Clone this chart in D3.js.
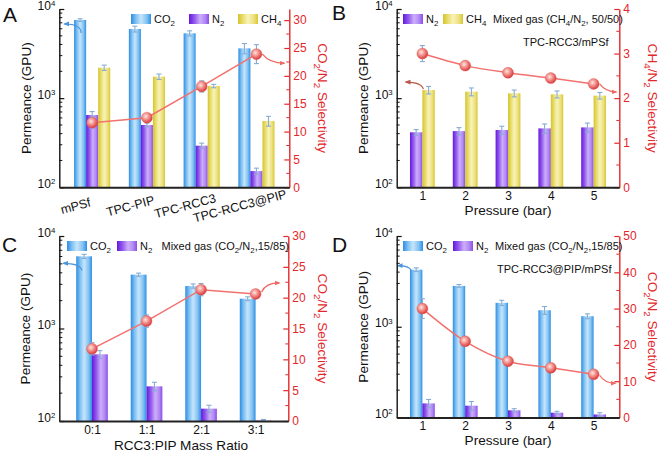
<!DOCTYPE html>
<html><head><meta charset="utf-8">
<script src="https://cdn.jsdelivr.net/npm/d3@7"></script>
<style>body{margin:0;background:#fff} svg{display:block;font-family:"Liberation Sans",Arial,sans-serif}</style>
</head><body>
<svg id="chart" width="661" height="454"></svg>
<script>
// ---------- DATA ----------
const catsA = ["mPSf", "TPC-PIP", "TPC-RCC3", "TPC-RCC3@PIP"];
const co2A = [7530, 5970, 5340, 3620];
const co2ErrA = [250, 450, 350, 480];
const n2A = [647, 500, 293, 152];
const n2ErrA = [60, 25, 20, 12];
const ch4A = [2196, 1742, 1368, 555];
const ch4ErrA = [150, 120, 60, 70];
const selA = [11.6, 12.5, 18.1, 23.9];
const selErrA = [1.0, 0.5, 1.0, 1.7];

const pressB = ["1", "2", "3", "4", "5"];
const n2B = [414, 427, 439, 458, 470];
const n2ErrB = [30, 40, 45, 55, 55];
const ch4B = [1233, 1181, 1133, 1104, 1067];
const ch4ErrB = [120, 120, 100, 100, 90];
const selB = [3.0, 2.73, 2.57, 2.45, 2.32];
const selErrB = [0.18, 0.06, 0.04, 0.06, 0.06];

const ratiosC = ["0:1", "1:1", "2:1", "3:1"];
const co2C = [6030, 3820, 2880, 2100];
const co2ErrC = [300, 150, 150, 100];
const n2C = [526, 237, 136, 101];
const n2ErrC = [50, 25, 12, 3];
const selC = [11.7, 16.2, 21.3, 20.6];
const selErrC = [1.0, 1.0, 1.0, 0.3];

const pressD = ["1", "2", "3", "4", "5"];
const co2D = [4256, 2818, 1834, 1520, 1306];
const co2ErrD = [200, 100, 120, 150, 80];
const n2D = [143, 135, 120, 113, 108];
const n2ErrD = [15, 15, 5, 4, 5];
const selD = [30.0, 21.0, 15.5, 13.7, 11.9];
const selErrD = [2.7, 0.8, 0.8, 0.8, 0.5];

const leftTicks = [100, 1000, 10000];
const rightTicksA = [0, 5, 10, 15, 20, 25, 30];
const rightTicksB = [0, 1, 2, 3, 4];
const rightTicksC = [0, 5, 10, 15, 20, 25, 30];
const rightTicksD = [0, 10, 20, 30, 40, 50];

// ---------- STYLE ----------
const RED = "#e3282c";
const ERR = "#86acd4";
const LINE = "#f2716e";
const svg = d3.select("#chart");
const defs = svg.append("defs");

function hGrad(id, stops) {
  const g = defs.append("linearGradient").attr("id", id)
    .attr("x1", "0").attr("x2", "1").attr("y1", "0").attr("y2", "0");
  stops.forEach(([o, c]) => g.append("stop").attr("offset", o).attr("stop-color", c));
}
hGrad("gCO2", [[0, "#2e8de2"], [0.25, "#7fc1f3"], [0.5, "#c6e5fb"], [0.78, "#84c3f3"], [1, "#2f90e3"]]);
hGrad("gN2", [[0, "#6418df"], [0.28, "#935bec"], [0.55, "#ccaefa"], [0.8, "#b28af4"], [1, "#8a4de8"]]);
hGrad("gCH4", [[0, "#d5c42a"], [0.28, "#ebe077"], [0.5, "#f8f3b8"], [0.78, "#ede182"], [1, "#d8c832"]]);
const rg = defs.append("radialGradient").attr("id", "gBall").attr("cx", "40%").attr("cy", "38%").attr("r", "62%");
[[0, "#fde6e2"], [0.45, "#f39590"], [1, "#d9393b"]].forEach(([o, c]) => rg.append("stop").attr("offset", o).attr("stop-color", c));

function arrowMarker(id, color) {
  defs.append("marker").attr("id", id).attr("viewBox", "0 0 10 10").attr("refX", 8).attr("refY", 5)
    .attr("markerWidth", 5).attr("markerHeight", 5).attr("orient", "auto")
    .append("path").attr("d", "M0,1 L10,5 L0,9 Z").attr("fill", color);
}
arrowMarker("arrBlue", "#4c94dc");
arrowMarker("arrRed", "#f06862");
arrowMarker("arrBrown", "#b9574a");

function rich(t, str, fs) {
  const parts = str.split(/(_\{[^}]*\}|\^\{[^}]*\})/).filter(s => s.length);
  let cur = 0;
  parts.forEach(p => {
    let target = 0, txt = p, size = null;
    if (p.startsWith("_{")) { target = fs * 0.3; txt = p.slice(2, -1); size = fs * 0.72; }
    else if (p.startsWith("^{")) { target = -fs * 0.3; txt = p.slice(2, -1); size = fs * 0.65; }
    const ts = t.append("tspan").text(txt).attr("dy", target - cur);
    if (size) ts.attr("font-size", size);
    cur = target;
  });
}

function drawPanel(p) {
  const g = svg.append("g");
  const xs = d3.scaleLinear().domain(p.xDomain).range([p.left, p.right]);
  const yL = d3.scaleLog().domain([100, 10000]).range([p.bottom, p.top]);
  const yR = d3.scaleLinear().domain(p.rDomain).range([p.bottom, p.top]);

  // bars
  p.bars.forEach(s => {
    g.append("g").selectAll("rect").data(s.values).join("rect")
      .attr("x", (d, i) => xs(i + 1 + s.off))
      .attr("width", (d, i) => xs(i + 1 + s.off + s.w) - xs(i + 1 + s.off))
      .attr("y", d => yL(d))
      .attr("height", d => p.bottom - yL(d))
      .attr("fill", `url(#${s.grad})`);
  });
  // bar error bars
  p.bars.forEach(s => {
    const eg = g.append("g").attr("stroke", ERR).attr("stroke-width", 1.1);
    s.values.forEach((v, i) => {
      const cx = xs(i + 1 + s.off + s.w / 2);
      const hi = yL(v + s.errs[i]);
      const ylo = Math.min(yL(Math.max(v - s.errs[i], 100.5)), p.bottom);
      eg.append("line").attr("x1", cx).attr("x2", cx).attr("y1", ylo).attr("y2", hi);
      eg.append("line").attr("x1", cx - 2.5).attr("x2", cx + 2.5).attr("y1", hi).attr("y2", hi);
      eg.append("line").attr("x1", cx - 2.5).attr("x2", cx + 2.5).attr("y1", ylo).attr("y2", ylo);
    });
  });

  // selectivity line
  const line = d3.line().x((d, i) => xs(i + 1)).y(d => yR(d)).curve(p.curve);
  g.append("path").datum(p.sel).attr("d", line).attr("fill", "none")
    .attr("stroke", LINE).attr("stroke-width", 1.5);
  const sg = g.append("g").attr("stroke", ERR).attr("stroke-width", 1.1);
  p.sel.forEach((v, i) => {
    const cx = xs(i + 1), a = yR(v - p.selErr[i]), b = yR(v + p.selErr[i]);
    sg.append("line").attr("x1", cx).attr("x2", cx).attr("y1", a).attr("y2", b);
    sg.append("line").attr("x1", cx - 2.5).attr("x2", cx + 2.5).attr("y1", a).attr("y2", a);
    sg.append("line").attr("x1", cx - 2.5).attr("x2", cx + 2.5).attr("y1", b).attr("y2", b);
  });
  g.append("g").selectAll("circle").data(p.sel).join("circle")
    .attr("cx", (d, i) => xs(i + 1)).attr("cy", d => yR(d)).attr("r", 5.5)
    .attr("fill", "url(#gBall)").attr("stroke", "#e05a58").attr("stroke-width", 0.4);

  // arrows
  p.arrows(xs, yL, yR).forEach(a => {
    g.append("path")
      .attr("d", `M${a.s[0]},${a.s[1]} Q${a.c[0]},${a.c[1]} ${a.e[0]},${a.e[1]}`)
      .attr("fill", "none").attr("stroke", a.color).attr("stroke-width", 1.2)
      .attr("marker-end", `url(#${a.m})`);
  });

  // left axis
  const la = g.append("g").attr("transform", `translate(${p.left},0)`)
    .call(d3.axisLeft(yL).tickValues(leftTicks).tickSize(-5).tickSizeOuter(0).tickPadding(4).tickFormat(() => ""))
    .attr("font-family", null).attr("font-size", null);
  la.select(".domain").attr("stroke", "#111").attr("stroke-width", 1.4);
  la.selectAll(".tick line").attr("stroke", "#111").attr("stroke-width", 1.2);
  la.selectAll(".tick text").attr("font-size", 12).attr("fill", "#111")
    .each(function (d) { rich(d3.select(this), "10^{" + Math.round(Math.log10(d)) + "}", 12); });
  const minors = [];
  [100, 1000].forEach(dec => { for (let k = 2; k <= 9; k++) minors.push(dec * k); });
  g.append("g").selectAll("line").data(minors).join("line")
    .attr("x1", p.left).attr("x2", p.left + 3).attr("y1", d => yL(d)).attr("y2", d => yL(d))
    .attr("stroke", "#111").attr("stroke-width", 1);

  // right axis
  const ra = g.append("g").attr("transform", `translate(${p.right},0)`)
    .call(d3.axisRight(yR).tickValues(p.rTicks).tickSize(-5).tickSizeOuter(0).tickPadding(4).tickFormat(d3.format("d")))
    .attr("font-family", null).attr("font-size", null);
  ra.select(".domain").attr("stroke", RED).attr("stroke-width", 1.4);
  ra.selectAll(".tick line").attr("stroke", RED).attr("stroke-width", 1.2);
  ra.selectAll(".tick text").attr("font-size", 12).attr("fill", RED);
  const step = p.rTicks[1] - p.rTicks[0];
  const rMinor = p.rTicks.slice(0, -1).map(t => t + step / 2);
  g.append("g").selectAll("line").data(rMinor).join("line")
    .attr("x1", p.right - 3).attr("x2", p.right).attr("y1", d => yR(d)).attr("y2", d => yR(d))
    .attr("stroke", RED).attr("stroke-width", 1);

  // bottom axis
  const ba = g.append("g").attr("transform", `translate(0,${p.bottom})`)
    .call(d3.axisBottom(xs).tickValues(p.cats.map((c, i) => i + 1)).tickSize(0).tickSizeOuter(0).tickPadding(4)
      .tickFormat(d => p.cats[d - 1]))
    .attr("font-family", null).attr("font-size", null);
  ba.select(".domain").attr("stroke", "#222").attr("stroke-width", 2);
  ba.selectAll(".tick text").attr("font-size", 12).attr("fill", "#111");
  if (p.rotateLabels) {
    ba.selectAll(".tick text").attr("font-size", 12.5).attr("y", 0).attr("dy", null)
      .attr("text-anchor", "middle").attr("dominant-baseline", "central")
      .attr("transform", "translate(-17,19) rotate(-15)");
  }

  // titles
  const lt = g.append("text").attr("transform", `translate(${p.ltx},${(p.top + p.bottom) / 2}) rotate(-90)`)
    .attr("text-anchor", "middle").attr("dy", "0.35em").attr("font-size", 13.6).attr("fill", "#111");
  rich(lt, "Permeance (GPU)", 13.6);
  const rt = g.append("text").attr("transform", `translate(${p.rtx},${(p.top + p.bottom) / 2}) rotate(90)`)
    .attr("text-anchor", "middle").attr("dy", "0.35em").attr("font-size", 13.6).attr("fill", RED);
  rich(rt, p.rTitle, 13.6);
  if (p.xTitle) {
    g.append("text").attr("x", p.xtx).attr("y", p.xty).attr("text-anchor", "middle")
      .attr("font-size", 13.6).attr("fill", "#111").text(p.xTitle);
  }
  // letter
  g.append("text").attr("x", p.letterX).attr("y", p.letterY).attr("font-size", 21).attr("fill", "#111").text(p.letter);

  // legend
  p.legend.forEach(l => {
    if (l.grad) {
      g.append("rect").attr("x", l.x).attr("y", l.y - 9).attr("width", 20).attr("height", 10).attr("fill", `url(#${l.grad})`);
      const t = g.append("text").attr("x", l.x + 23).attr("y", l.y).attr("font-size", 11).attr("fill", "#111");
      rich(t, l.label, 11);
    } else {
      const t = g.append("text").attr("x", l.x).attr("y", l.y).attr("font-size", 11).attr("fill", "#111");
      rich(t, l.label, 11);
    }
  });
}

// Panel A
drawPanel({
  letter: "A", letterX: 3, letterY: 22,
  left: 59.3, right: 289.3, top: 9, bottom: 187.3,
  xDomain: [0.4, 4.6], cats: catsA, rotateLabels: true,
  bars: [
    { values: co2A, errs: co2ErrA, grad: "gCO2", off: -0.33, w: 0.22 },
    { values: n2A, errs: n2ErrA, grad: "gN2", off: -0.11, w: 0.22 },
    { values: ch4A, errs: ch4ErrA, grad: "gCH4", off: 0.11, w: 0.22 }
  ],
  sel: selA, selErr: selErrA, curve: d3.curveLinear,
  rDomain: [0, 32], rTicks: rightTicksA,
  rTitle: "CO_{2}/N_{2} Selectivity", ltx: 31, rtx: 318,
  arrows: (xs, yL, yR) => [
    { s: [xs(0.8), yL(co2A[0]) + 13], c: [xs(0.8), yL(co2A[0]) + 4], e: [59.3 + 5, yL(co2A[0]) + 4], color: "#4c94dc", m: "arrBlue" },
    { s: [xs(4) + 6, yR(selA[3])], c: [xs(4) + 13, yR(selA[3]) + 9], e: [289.3 - 5, yR(selA[3]) + 9], color: "#f06862", m: "arrRed" }
  ],
  legend: [
    { grad: "gCO2", label: "CO_{2}", x: 131, y: 23 },
    { grad: "gN2", label: "N_{2}", x: 189, y: 23 },
    { grad: "gCH4", label: "CH_{4}", x: 238, y: 23 }
  ]
});

// Panel B
drawPanel({
  letter: "B", letterX: 332, letterY: 20,
  left: 396.7, right: 619.3, top: 9, bottom: 187.3,
  xDomain: [0.4, 5.6], cats: pressB,
  bars: [
    { values: n2B, errs: n2ErrB, grad: "gN2", off: -0.29, w: 0.29 },
    { values: ch4B, errs: ch4ErrB, grad: "gCH4", off: 0, w: 0.29 }
  ],
  sel: selB, selErr: selErrB, curve: d3.curveMonotoneX,
  rDomain: [0, 4], rTicks: rightTicksB,
  rTitle: "CH_{4}/N_{2} Selectivity", ltx: 367.5, rtx: 648,
  xTitle: "Pressure (bar)", xtx: 508, xty: 215,
  arrows: (xs, yL, yR) => [
    { s: [xs(1) + 1, yL(ch4B[0]) - 1], c: [xs(1) - 1, yL(ch4B[0]) - 8], e: [396.7 + 9, yL(ch4B[0]) - 8], color: "#b9574a", m: "arrBrown" },
    { s: [xs(5) + 6, yR(selB[4])], c: [xs(5) + 12, yR(selB[4]) + 8], e: [619.3 - 3, yR(selB[4]) + 8], color: "#f06862", m: "arrRed" }
  ],
  legend: [
    { grad: "gN2", label: "N_{2}", x: 403, y: 23 },
    { grad: "gCH4", label: "CH_{4}", x: 443, y: 23 },
    { label: "Mixed gas (CH_{4}/N_{2}, 50/50)", x: 493, y: 23 },
    { label: "TPC-RCC3/mPSf", x: 523, y: 46 }
  ]
});

// Panel C
drawPanel({
  letter: "C", letterX: 2, letterY: 252,
  left: 59.3, right: 288.3, top: 236, bottom: 421,
  xDomain: [0.4, 4.6], cats: ratiosC,
  bars: [
    { values: co2C, errs: co2ErrC, grad: "gCO2", off: -0.29, w: 0.29 },
    { values: n2C, errs: n2ErrC, grad: "gN2", off: 0, w: 0.29 }
  ],
  sel: selC, selErr: selErrC, curve: d3.curveLinear,
  rDomain: [0, 30], rTicks: rightTicksC,
  rTitle: "CO_{2}/N_{2} Selectivity", ltx: 30, rtx: 318,
  xTitle: "RCC3:PIP Mass Ratio", xtx: 181, xty: 450,
  arrows: (xs, yL, yR) => [
    { s: [xs(1) - 10, yL(co2C[0]) + 14], c: [xs(1) - 12, yL(co2C[0]) + 7], e: [59.3 + 4, yL(co2C[0]) + 7], color: "#4c94dc", m: "arrBlue" },
    { s: [xs(4) + 6, yR(selC[3]) - 2], c: [xs(4) + 10, yR(selC[3]) - 11], e: [288.3 - 9, yR(selC[3]) - 11], color: "#f06862", m: "arrRed" }
  ],
  legend: [
    { grad: "gCO2", label: "CO_{2}", x: 67, y: 250 },
    { grad: "gN2", label: "N_{2}", x: 117, y: 250 },
    { label: "Mixed gas (CO_{2}/N_{2},15/85)", x: 161.5, y: 250 }
  ]
});

// Panel D
drawPanel({
  letter: "D", letterX: 332, letterY: 252,
  left: 396.7, right: 619.3, top: 236, bottom: 417.5,
  xDomain: [0.4, 5.6], cats: pressD,
  bars: [
    { values: co2D, errs: co2ErrD, grad: "gCO2", off: -0.29, w: 0.29 },
    { values: n2D, errs: n2ErrD, grad: "gN2", off: 0, w: 0.29 }
  ],
  sel: selD, selErr: selErrD, curve: d3.curveMonotoneX,
  rDomain: [0, 50], rTicks: rightTicksD,
  rTitle: "CO_{2}/N_{2} Selectivity", ltx: 367.5, rtx: 648,
  xTitle: "Pressure (bar)", xtx: 508, xty: 445,
  arrows: (xs, yL, yR) => [
    { s: [xs(1) - 11, yL(co2D[0]) + 1], c: [xs(1) - 13, yL(co2D[0]) - 4], e: [396.7 + 1, yL(co2D[0]) - 4], color: "#4c94dc", m: "arrBlue" },
    { s: [xs(5) + 6, yR(selD[4]) + 1], c: [xs(5) + 11, yR(selD[4]) + 9], e: [619.3 - 4, yR(selD[4]) + 9], color: "#f06862", m: "arrRed" }
  ],
  legend: [
    { grad: "gCO2", label: "CO_{2}", x: 403, y: 250 },
    { grad: "gN2", label: "N_{2}", x: 453, y: 250 },
    { label: "Mixed gas (CO_{2}/N_{2},15/85)", x: 495, y: 250 },
    { label: "TPC-RCC3@PIP/mPSf", x: 497, y: 273 }
  ]
});
</script></body></html>
